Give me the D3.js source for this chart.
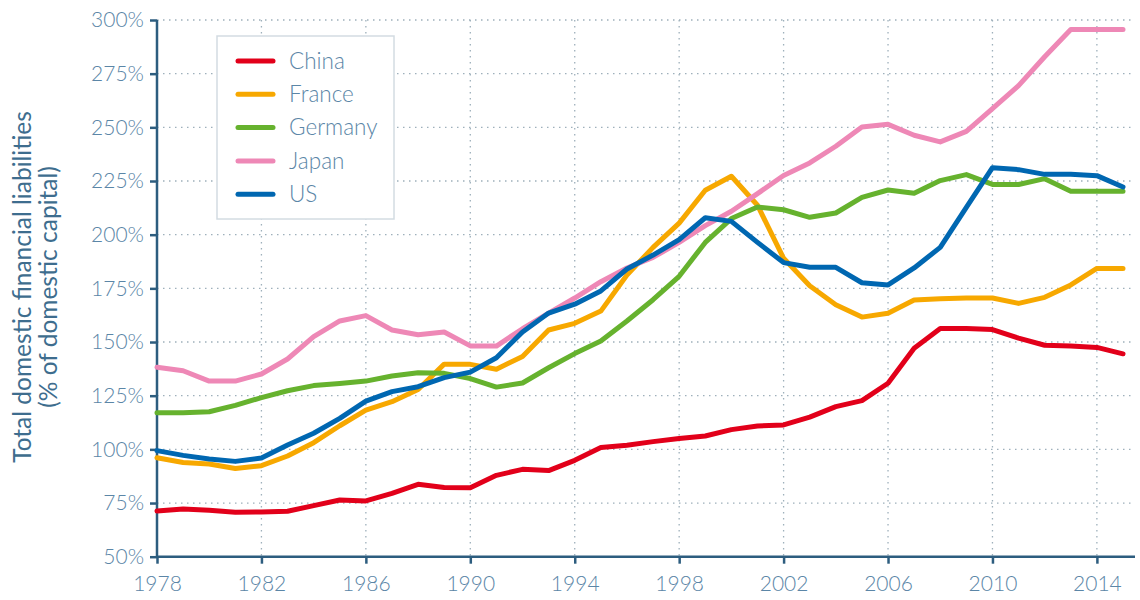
<!DOCTYPE html>
<html>
<head>
<meta charset="utf-8">
<script src="https://cdn.jsdelivr.net/npm/d3@7"></script>
<style>
  html, body { margin: 0; padding: 0; background: #ffffff; }
  svg { display: block; font-family: Lato, "Open Sans", sans-serif; }
</style>
</head>
<body>
<svg id="chart" width="1140" height="600"></svg>
<script>
// Years covered by every series
const years = d3.range(1978, 2016);

// Total domestic financial liabilities, % of domestic capital
const china = [71.3, 72.2, 71.6, 70.7, 70.8, 71.2, 73.8, 76.4, 76.0, 79.5, 83.7, 82.2, 82.1,
  87.9, 90.7, 90.1, 94.9, 100.9, 101.9, 103.6, 105.1, 106.2, 109.2, 110.9, 111.4, 115.0,
  119.9, 122.7, 130.8, 147.1, 156.3, 156.3, 155.8, 151.8, 148.5, 148.1, 147.5, 144.5];
const france = [96.1, 93.9, 93.2, 91.1, 92.4, 96.9, 103.1, 111.0, 118.3, 122.2, 127.9, 139.7, 139.6,
  137.3, 143.3, 155.6, 158.7, 164.4, 181.2, 194.1, 205.4, 220.7, 227.2, 213.7, 189.0, 176.2,
  167.4, 161.6, 163.4, 169.6, 170.2, 170.5, 170.5, 168.0, 170.8, 176.6, 184.3, 184.3];
const germany = [117.1, 117.1, 117.5, 120.5, 124.1, 127.3, 129.7, 130.7, 131.8, 134.2, 135.7, 135.4, 133.0,
  129.0, 130.9, 138.0, 144.6, 150.5, 159.8, 169.7, 180.6, 196.4, 207.5, 212.9, 211.6, 208.1,
  210.1, 217.4, 220.8, 219.3, 225.2, 228.0, 223.4, 223.4, 226.1, 220.2, 220.2, 220.2];
const japan = [138.2, 136.6, 131.8, 131.8, 135.1, 142.1, 152.5, 159.8, 162.3, 155.6, 153.4, 154.7, 148.2,
  148.1, 156.2, 163.5, 170.5, 178.1, 184.5, 189.4, 196.4, 204.2, 210.9, 219.1, 227.6, 233.4,
  241.2, 250.2, 251.4, 246.3, 243.2, 248.1, 258.7, 269.4, 282.9, 295.6, 295.6, 295.6];
const us = [99.4, 97.2, 95.5, 94.4, 96.0, 102.0, 107.5, 114.4, 122.5, 126.9, 129.2, 133.4, 136.0,
  142.7, 154.7, 163.5, 167.6, 173.8, 184.0, 190.5, 197.7, 207.9, 206.2, 196.4, 187.0, 184.8,
  184.8, 177.6, 176.6, 184.5, 194.1, 212.7, 231.2, 230.3, 228.1, 228.1, 227.5, 222.2];

const seriesNames = ["China", "France", "Germany", "Japan", "US"];
const seriesValues = [china, france, germany, japan, us];
const seriesColors = ["#e2001a", "#f7a800", "#66b22e", "#ee88b6", "#0067b1"];

const yTicks = [50, 75, 100, 125, 150, 175, 200, 225, 250, 275, 300];
const xTicks = [1978, 1982, 1986, 1990, 1994, 1998, 2002, 2006, 2010, 2014];

const svg = d3.select("#chart");

const plot = { left: 157, right: 1123, top: 20, bottom: 556.7, gridRight: 1135 };

const x = d3.scaleLinear().domain([1978, 2015]).range([plot.left, plot.right]);
const y = d3.scaleLinear().domain([50, 300]).range([plot.bottom, plot.top]);

const tickColor = "#5b86a7";
const axisColor = "#2d5d7f";
const gridColor = "#9eb0bb";

// Dotted grid
const grid = svg.append("g");
grid.selectAll("line.h").data(yTicks.filter(t => t > 50)).join("line")
  .attr("class", "h")
  .attr("x1", plot.left).attr("x2", plot.gridRight)
  .attr("y1", d => y(d)).attr("y2", d => y(d))
  .attr("stroke", gridColor).attr("stroke-width", 1.3)
  .attr("stroke-dasharray", "1.5,4.5");
grid.selectAll("line.v").data(xTicks.filter(t => t > 1978)).join("line")
  .attr("class", "v")
  .attr("x1", d => x(d)).attr("x2", d => x(d))
  .attr("y1", plot.top).attr("y2", plot.bottom)
  .attr("stroke", gridColor).attr("stroke-width", 1.3)
  .attr("stroke-dasharray", "1.5,4.5");

// Axes
const yAxis = svg.append("g")
  .attr("transform", `translate(${plot.left},0)`)
  .call(d3.axisLeft(y).tickValues(yTicks).tickFormat(d => d + "%").tickSize(7).tickPadding(6));
const xAxis = svg.append("g")
  .attr("transform", `translate(0,${plot.bottom})`)
  .call(d3.axisBottom(x).tickValues(xTicks).tickFormat(d3.format("d")).tickSize(7).tickPadding(12));

[yAxis, xAxis].forEach(a => {
  a.select(".domain").attr("stroke", axisColor).attr("stroke-width", 2.5);
  a.selectAll(".tick line").attr("stroke", axisColor).attr("stroke-width", 2.5);
  a.selectAll(".tick text")
    .attr("fill", tickColor)
    .style("font-family", "Lato, sans-serif")
    .style("font-weight", 300)
    .style("font-size", "21px");
});
xAxis.select(".domain").attr("d", `M${plot.left},0H${plot.gridRight}`);
yAxis.select(".domain").attr("d", `M0,${plot.top}V${plot.bottom}`);

// Axis title
const title = svg.append("text")
  .attr("transform", `translate(31,287) rotate(-90)`)
  .attr("text-anchor", "middle")
  .attr("fill", "#3e6d8e")
  .style("font-family", "Lato, sans-serif")
  .style("font-weight", 400)
  .style("font-size", "24.5px");
title.append("tspan").attr("x", 0).attr("dy", 0).text("Total domestic financial liabilities");
title.append("tspan").attr("x", 0).attr("dy", 26).text("(% of domestic capital)");

// Series lines
const line = d3.line().x((d, i) => x(years[i])).y(d => y(d));
svg.append("g").selectAll("path").data(seriesValues).join("path")
  .attr("d", line)
  .attr("fill", "none")
  .attr("stroke", (d, i) => seriesColors[i])
  .attr("stroke-width", 5)
  .attr("stroke-linejoin", "round")
  .attr("stroke-linecap", "round");

// Legend
const legend = svg.append("g");
legend.append("rect")
  .attr("x", 217).attr("y", 36).attr("width", 177).attr("height", 183)
  .attr("fill", "#ffffff").attr("stroke", "#d3dce2").attr("stroke-width", 1.5);
const rows = legend.selectAll("g.row").data(seriesNames).join("g")
  .attr("class", "row")
  .attr("transform", (d, i) => `translate(0,${61 + i * 33.3})`);
rows.append("line")
  .attr("x1", 238).attr("x2", 273)
  .attr("stroke", (d, i) => seriesColors[i])
  .attr("stroke-width", 5).attr("stroke-linecap", "round");
rows.append("text")
  .attr("x", 289).attr("dy", "0.35em")
  .attr("fill", tickColor)
  .style("font-family", "Lato, sans-serif")
  .style("font-weight", 300)
  .style("font-size", "22.5px")
  .text(d => d);
</script>
</body>
</html>
